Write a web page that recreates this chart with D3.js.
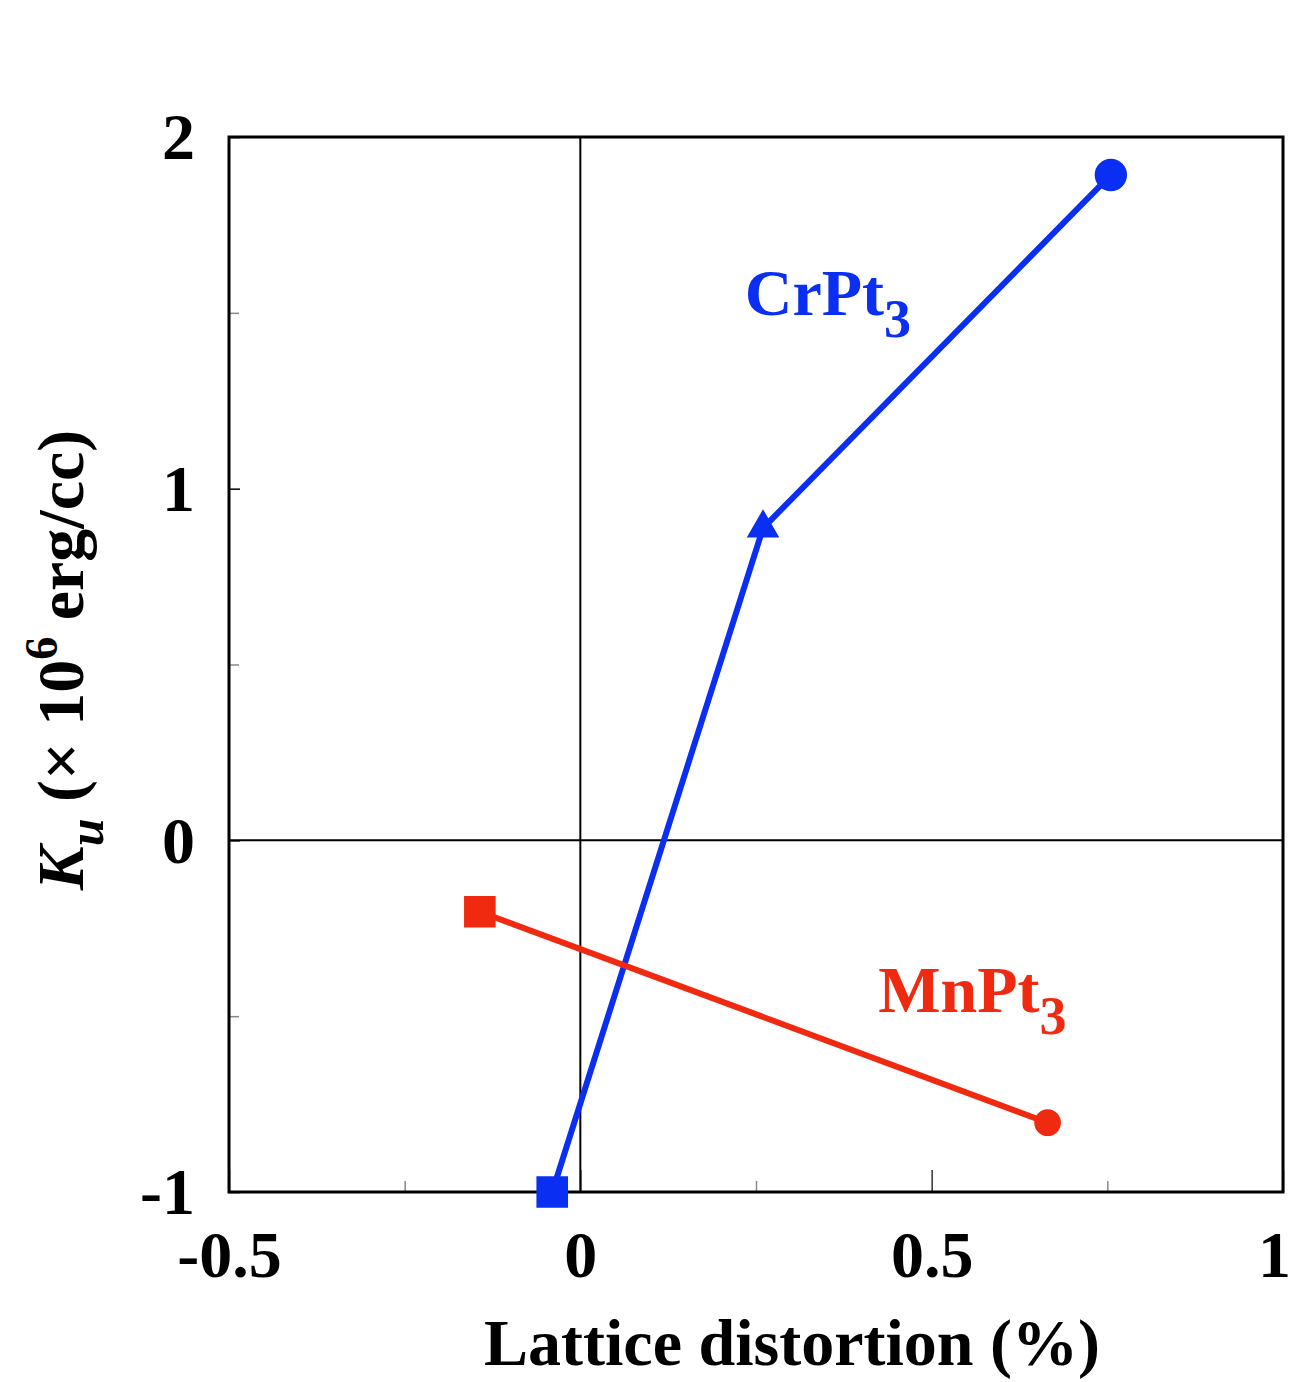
<!DOCTYPE html>
<html>
<head>
<meta charset="utf-8">
<script src="https://cdn.jsdelivr.net/npm/d3@7"></script>
<style>
  body { margin: 0; background: #fff; }
  svg text { font-family: "Liberation Serif", "Times New Roman", serif; font-weight: bold; }
</style>
</head>
<body>
<div id="chart"></div>
<script>
// data
const crPt3X = [-0.04, 0.26, 0.755];
const crPt3Y = [-1.0, 0.888, 1.892];
const crPt3Shape = ["square", "triangle", "circle"];

const mnPt3X = [-0.143, 0.665];
const mnPt3Y = [-0.203, -0.803];
const mnPt3Shape = ["square", "circle"];

const xTicks = [-0.5, 0, 0.5, 1];
const xMinor = [-0.25, 0.25, 0.75];
const yTicks = [-1, 0, 1, 2];
const yMinor = [-0.5, 0.5, 1.5];

const blue = "#0b2ff2";
const red = "#f02a10";

const width = 1290, height = 1382;
const margin = {top: 137, right: 7, bottom: 190, left: 229};

const svg = d3.select("#chart").append("svg")
    .attr("width", width)
    .attr("height", height);

const x = d3.scaleLinear().domain([-0.5, 1]).range([margin.left, width - margin.right]);
const y = d3.scaleLinear().domain([-1, 2]).range([height - margin.bottom, margin.top]);

// minor ticks (grey, inside)
svg.append("g")
    .attr("transform", "translate(0," + y(-1) + ")")
    .call(d3.axisBottom(x).tickValues(xMinor).tickSize(-11).tickFormat(""))
    .call(g => g.select(".domain").remove())
    .call(g => g.selectAll("line").attr("stroke", "#888").attr("stroke-width", 1.5));

svg.append("g")
    .attr("transform", "translate(" + x(-0.5) + ",0)")
    .call(d3.axisLeft(y).tickValues(yMinor).tickSize(-10).tickFormat(""))
    .call(g => g.select(".domain").remove())
    .call(g => g.selectAll("line").attr("stroke", "#888").attr("stroke-width", 1.5));

// major ticks + labels
svg.append("g")
    .attr("transform", "translate(0," + y(-1) + ")")
    .call(d3.axisBottom(x).tickValues(xTicks).tickSize(-22).tickPadding(38)
        .tickFormat(d => String(d)))
    .call(g => g.select(".domain").remove())
    .call(g => g.selectAll("line").attr("stroke", "#333").attr("stroke-width", 1.5))
    .call(g => g.selectAll("text").attr("fill", "#000").style("font-size", "66px"))
    // last label sits at the page edge; nudge it in so it stays visible
    .call(g => g.selectAll("text").filter(d => d === 1).attr("dx", -9));

svg.append("g")
    .attr("transform", "translate(" + x(-0.5) + ",0)")
    .call(d3.axisLeft(y).tickValues(yTicks).tickSize(-11).tickPadding(34)
        .tickFormat(d => String(d)))
    .call(g => g.select(".domain").remove())
    .call(g => g.selectAll("line").attr("stroke", "#000").attr("stroke-width", 1.5))
    .call(g => g.selectAll("text").attr("fill", "#000").attr("dy", "0.33em").style("font-size", "66px"));

// zero lines
svg.append("line")
    .attr("x1", x(0)).attr("x2", x(0))
    .attr("y1", y(-1)).attr("y2", y(2))
    .attr("stroke", "#000").attr("stroke-width", 2);
svg.append("line")
    .attr("x1", x(-0.5)).attr("x2", x(1))
    .attr("y1", y(0)).attr("y2", y(0))
    .attr("stroke", "#000").attr("stroke-width", 2);

// frame
svg.append("rect")
    .attr("x", x(-0.5)).attr("y", y(2))
    .attr("width", x(1) - x(-0.5))
    .attr("height", y(-1) - y(2))
    .attr("fill", "none")
    .attr("stroke", "#000")
    .attr("stroke-width", 3);

const line = d3.line()
    .x(d => x(d[0]))
    .y(d => y(d[1]));

const shapes = {
    square: d3.symbolSquare,
    triangle: d3.symbolTriangle,
    circle: d3.symbolCircle
};

function drawSeries(xs, ys, kinds, color, sizes) {
    const pts = xs.map((v, i) => [v, ys[i], kinds[i]]);
    svg.append("path")
        .datum(pts)
        .attr("fill", "none")
        .attr("stroke", color)
        .attr("stroke-width", 6)
        .attr("d", line);
    svg.selectAll(null)
        .data(pts)
        .enter()
        .append("path")
        .attr("transform", d => "translate(" + x(d[0]) + "," + y(d[1]) + ")")
        .attr("fill", color)
        .attr("d", d => d3.symbol().type(shapes[d[2]]).size(sizes[d[2]])());
}

drawSeries(crPt3X, crPt3Y, crPt3Shape, blue, {square: 1000, triangle: 460, circle: 820});
drawSeries(mnPt3X, mnPt3Y, mnPt3Shape, red, {square: 1000, circle: 560});

// series labels
const labels = [
    {main: "CrPt", sub: "3", lx: 0.234, ly: 1.494, color: blue},
    {main: "MnPt", sub: "3", lx: 0.424, ly: -0.488, color: red}
];
labels.forEach(l => {
    const t = svg.append("text")
        .attr("x", x(l.lx))
        .attr("y", y(l.ly))
        .attr("fill", l.color)
        .style("font-size", "66px");
    t.append("tspan").text(l.main);
    t.append("tspan").attr("dy", 22).style("font-size", "54px").text(l.sub);
});

// axis titles
svg.append("text")
    .attr("x", 792)
    .attr("y", 1365)
    .attr("text-anchor", "middle")
    .style("font-size", "66px")
    .text("Lattice distortion (%)");

const yt = svg.append("text")
    .attr("transform", "translate(83,660) rotate(-90)")
    .attr("text-anchor", "middle")
    .style("font-size", "66px");
yt.append("tspan").style("font-style", "italic").text("K");
yt.append("tspan").style("font-style", "italic").style("font-size", "50px").attr("dy", 20).text("u");
yt.append("tspan").attr("dy", -20).text(" (× 10");
yt.append("tspan").style("font-size", "46px").attr("dy", -26).text("6");
yt.append("tspan").attr("dy", 26).text(" erg/cc)");
</script>
</body>
</html>
